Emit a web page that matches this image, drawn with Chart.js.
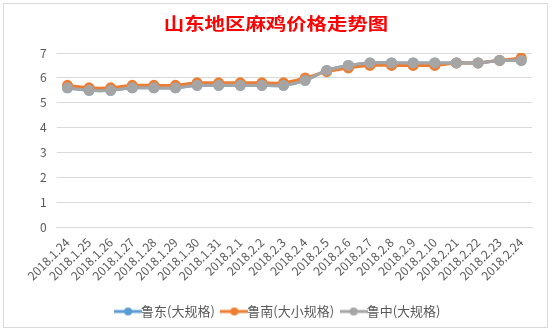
<!DOCTYPE html>
<html lang="zh">
<head>
    <meta charset="UTF-8">
    <title>山东地区麻鸡价格走势图</title>
    <style>
        body {
            margin: 0;
            padding: 0;
            background-color: #fff;
        }
        #wrap {
            width: 552px;
            height: 333px;
        }
    </style>
    <script src="https://cdn.jsdelivr.net/npm/chart.js"></script>
</head>
<body>
<div id="wrap">
    <canvas id="priceChart" width="552" height="333"></canvas>
</div>
<script>
    const chartTitle = '山东地区麻鸡价格走势图';
    const dates = ['2018.1.24', '2018.1.25', '2018.1.26', '2018.1.27', '2018.1.28', '2018.1.29',
        '2018.1.30', '2018.1.31', '2018.2.1', '2018.2.2', '2018.2.3', '2018.2.4', '2018.2.5',
        '2018.2.6', '2018.2.7', '2018.2.8', '2018.2.9', '2018.2.10', '2018.2.21', '2018.2.22',
        '2018.2.23', '2018.2.24'];
    const ludong = [5.6, 5.5, 5.5, 5.6, 5.6, 5.6, 5.7, 5.7, 5.7, 5.7, 5.7, 5.9, 6.3,
        6.5, 6.6, 6.6, 6.6, 6.6, 6.6, 6.6, 6.7, 6.7];
    const lunan = [5.7, 5.6, 5.6, 5.7, 5.7, 5.7, 5.8, 5.8, 5.8, 5.8, 5.8, 6.0, 6.25,
        6.4, 6.5, 6.5, 6.5, 6.5, 6.6, 6.6, 6.7, 6.8];
    const luzhong = [5.6, 5.5, 5.5, 5.6, 5.6, 5.6, 5.7, 5.7, 5.7, 5.7, 5.7, 5.9, 6.3,
        6.5, 6.6, 6.6, 6.6, 6.6, 6.6, 6.6, 6.7, 6.7];
    const seriesNames = ['鲁东(大规格)', '鲁南(大小规格)', '鲁中(大规格)'];
    const seriesColors = ['#5B9BD5', '#ED7D31', '#A5A5A5'];
    // 绘制先后：鲁中在最上层
    const drawOrder = [2, 1, 0];

    // 图例用的小图标：线 + 圆点
    function legendIcon(color) {
        const c = document.createElement('canvas');
        c.width = 28;
        c.height = 10;
        const g = c.getContext('2d');
        g.strokeStyle = color;
        g.lineWidth = 3;
        g.beginPath();
        g.moveTo(0, 5);
        g.lineTo(28, 5);
        g.stroke();
        g.fillStyle = color;
        g.beginPath();
        g.arc(14, 5, 4, 0, Math.PI * 2);
        g.fill();
        return c;
    }

    // 外框 + 标题（标题字比较宽，横向拉伸一点）
    const framePlugin = {
        id: 'frame',
        afterDraw(chart) {
            const ctx = chart.ctx;
            ctx.save();
            ctx.strokeStyle = '#d9d9d9';
            ctx.lineWidth = 1;
            ctx.strokeRect(3.5, 3.5, 544, 324);

            ctx.translate(chart.width / 2, 24);
            ctx.scale(1.2, 1);
            ctx.font = 'bold 17px "Noto Sans CJK SC"';
            ctx.fillStyle = '#FF0000';
            ctx.textAlign = 'center';
            ctx.textBaseline = 'middle';
            ctx.fillText(chartTitle, 0, 0);
            ctx.restore();
        }
    };

    function makeSet(i, data) {
        return {
            label: seriesNames[i],
            data: data,
            order: drawOrder[i],
            borderColor: seriesColors[i],
            backgroundColor: seriesColors[i],
            borderWidth: 3,
            pointRadius: 4,
            pointHoverRadius: 4,
            tension: 0.3,
            fill: false
        };
    }

    const ctx = document.getElementById('priceChart').getContext('2d');
    new Chart(ctx, {
        type: 'line',
        data: {
            labels: dates,
            datasets: [makeSet(0, ludong), makeSet(1, lunan), makeSet(2, luzhong)]
        },
        options: {
            responsive: false,
            animation: false,
            layout: {
                padding: { left: 30, right: 20, top: 53, bottom: 5 }
            },
            plugins: {
                title: { display: false },
                legend: {
                    position: 'bottom',
                    labels: {
                        color: '#595959',
                        font: { family: '"Noto Sans CJK SC"', size: 13 },
                        usePointStyle: true,
                        boxWidth: 28,
                        boxHeight: 10,
                        padding: 13,
                        generateLabels(chart) {
                            return chart.data.datasets.map(function (ds, i) {
                                return {
                                    text: ds.label,
                                    fontColor: '#595959',
                                    pointStyle: legendIcon(seriesColors[i]),
                                    datasetIndex: i,
                                    strokeStyle: seriesColors[i],
                                    fillStyle: seriesColors[i],
                                    lineWidth: 0
                                };
                            });
                        }
                    }
                },
                tooltip: { enabled: false }
            },
            scales: {
                x: {
                    offset: true,
                    grid: { display: false },
                    border: { color: '#d9d9d9' },
                    afterFit(scale) {
                        scale.height += 9;
                    },
                    ticks: {
                        padding: 0,
                        color: '#595959',
                        font: { family: '"Noto Sans CJK SC"', size: 12 },
                        minRotation: 45,
                        maxRotation: 45,
                        autoSkip: false
                    }
                },
                y: {
                    min: 0,
                    max: 7,
                    grid: { color: '#d9d9d9', drawTicks: false },
                    border: { display: false },
                    ticks: {
                        stepSize: 1,
                        padding: 10,
                        color: '#595959',
                        font: { family: '"Noto Sans CJK SC"', size: 12 }
                    }
                }
            }
        },
        plugins: [framePlugin]
    });
</script>
</body>
</html>
